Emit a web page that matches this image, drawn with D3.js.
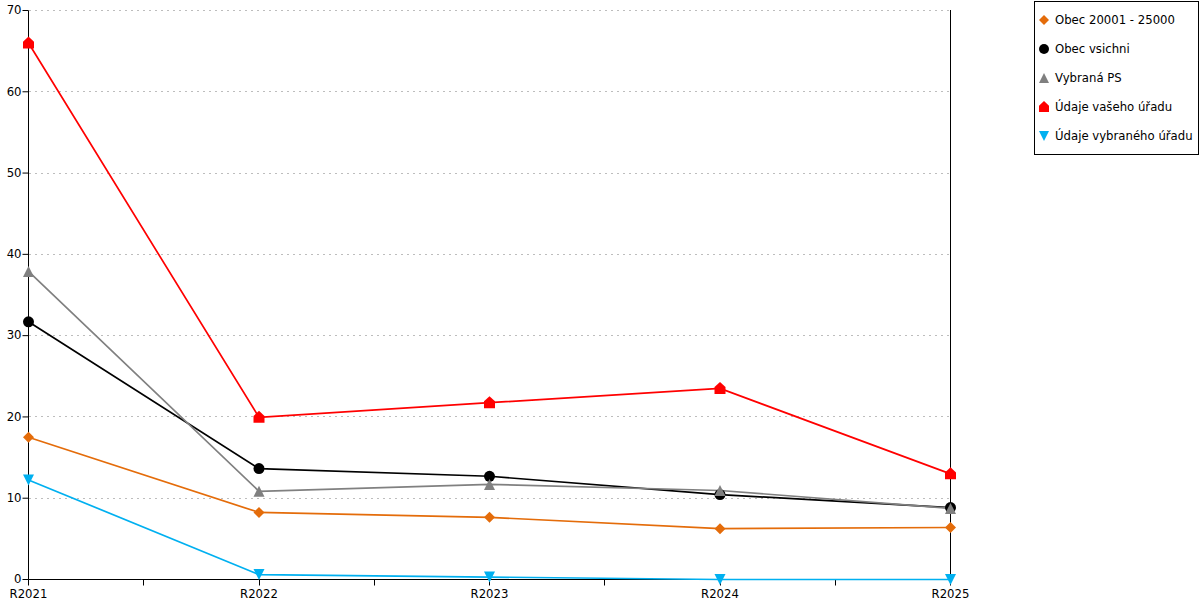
<!DOCTYPE html>
<html><head><meta charset="utf-8">
<script src="https://cdn.jsdelivr.net/npm/d3@7"></script>
<style>
body{margin:0;background:#fff;}
text{font-family:"DejaVu Sans",sans-serif;}
</style></head>
<body><svg id="c" width="1200" height="600"></svg>
<script>
const categories = ["R2021","R2022","R2023","R2024","R2025"];
const seriesNames = ["Obec 20001 - 25000","Obec vsichni","Vybraná PS","Údaje vašeho úřadu","Údaje vybraného úřadu"];
const obec20001 = [17.5, 8.25, 7.65, 6.25, 6.4];
const obecVsichni = [31.7, 13.65, 12.7, 10.45, 8.85];
const vybranaPS = [37.9, 10.85, 11.7, 10.95, 8.75];
const vaseUrad = [66.0, 19.95, 21.75, 23.5, 13.0];
const vybranyUrad = [12.25, 0.6, 0.3, 0.0, 0.0];
const yTicks = [0,10,20,30,40,50,60,70];
const colors = ["#e46c0a","#000000","#808080","#ff0000","#00b0f0"];
const markers = ["diamond","circle","triangle","house","down"];

const series = [obec20001, obecVsichni, vybranaPS, vaseUrad, vybranyUrad];

const svg = d3.select("#c");
const x = d3.scalePoint().domain(categories).range([28.5, 950.5]);
const y = d3.scaleLinear().domain([0,70]).range([579.5, 10.5]);

// grid
svg.append("g").selectAll("line").data(yTicks.filter(d=>d>0)).join("line")
  .attr("x1",29).attr("x2",950).attr("y1",d=>Math.round(y(d)-0.5)+0.5).attr("y2",d=>Math.round(y(d)-0.5)+0.5)
  .attr("stroke","#bdbdbd").attr("stroke-dasharray","2,4");

// right border line
svg.append("line").attr("x1",950.5).attr("x2",950.5).attr("y1",10).attr("y2",579.5).attr("stroke","#000");

// y axis
const yAxis = d3.axisLeft(y).tickValues(yTicks).tickSize(6).tickSizeOuter(0).offset(0);
const gy = svg.append("g").attr("transform","translate(28.5,0)").call(yAxis);
gy.select(".domain").attr("stroke","#000");
gy.selectAll(".tick line").attr("stroke","#000");
gy.selectAll("text").attr("font-size",11.7).attr("font-family","DejaVu Sans").attr("fill","#000").attr("x",-7);

// x axis
const gx = svg.append("g").attr("transform","translate(0,579.5)");
gx.append("line").attr("x1",28.5).attr("x2",950.5).attr("stroke","#000");
const step = x.step();
const minor = categories.slice(0,-1).map(c=>x(c)+step/2);
gx.selectAll("line.t").data(categories.map(c=>x(c)).concat(minor)).join("line").attr("class","t")
  .attr("x1",d=>Math.floor(d)+0.5).attr("x2",d=>Math.floor(d)+0.5).attr("y1",0).attr("y2",6).attr("stroke","#000");
gx.selectAll("text").data(categories).join("text")
  .attr("x",d=>x(d)).attr("y",18).attr("text-anchor","middle").attr("font-size",11.7).attr("fill","#000").text(d=>d);

function markerPath(type, s){
  const h = s/2;
  switch(type){
    case "diamond": return `M0,${-h}L${h},0L0,${h}L${-h},0Z`;
    case "circle": return d3.symbol(d3.symbolCircle, Math.PI*h*h)();
    case "triangle": return `M0,${-h}L${h},${h}L${-h},${h}Z`;
    case "house": return `M0,${-h-1}L${h},${-h/4}L${h},${h}L${-h},${h}L${-h},${-h/4}Z`;
    case "down": return `M${-h},${-h}L${h},${-h}L0,${h}Z`;
  }
}
const msize = [11,11,11,11,11];

const line = d3.line().x((d,i)=>x(categories[i])).y(d=>y(d));
const g = svg.append("g");
series.forEach((vals,si)=>{
  g.append("path").datum(vals).attr("d",line).attr("fill","none")
    .attr("stroke",colors[si]).attr("stroke-width",1.7);
});
series.forEach((vals,si)=>{
  g.append("g").selectAll("path").data(vals).join("path")
    .attr("transform",(d,i)=>`translate(${x(categories[i])},${y(d)})`)
    .attr("d",markerPath(markers[si], msize[si])).attr("fill",colors[si]);
});

// legend
const lg = svg.append("g");
lg.append("rect").attr("x",1034.5).attr("y",1.5).attr("width",164).attr("height",153)
  .attr("fill","#fff").attr("stroke","#000");
seriesNames.forEach((n,i)=>{
  const cy = 20 + i*29;
  lg.append("path").attr("transform",`translate(1044,${cy})`).attr("d",markerPath(markers[i],10)).attr("fill",colors[i]);
  lg.append("text").attr("x",1055).attr("y",cy+4).attr("font-size",11.7).attr("fill","#000").text(n);
});
</script></body></html>
